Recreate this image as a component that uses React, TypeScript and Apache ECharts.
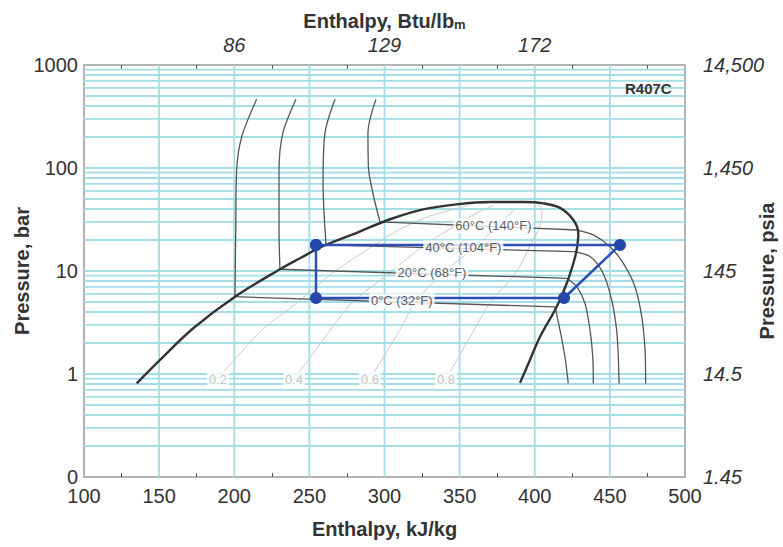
import React, { useEffect, useRef } from "react";
import * as echarts from "echarts";

const FONT = "'Liberation Sans', Arial, Helvetica, sans-serif";

// Axis ranges
const H_MIN = 100;
const H_MAX = 500;
const P_MIN = 0.1;
const P_MAX = 1000;

// Tick labels
const barTickLabels = ["0", "1", "10", "100", "1000"];
const psiaTickLabels = ["1.45", "14.5", "145", "1,450", "14,500"];
const btuTickLabels: Record<string, string> = { "200": "86", "300": "129", "400": "172" };

// Grid lines (pressure in bar, enthalpy in kJ/kg)
const pressureGrid = [
  0.2, 0.3, 0.4, 0.5, 0.6, 0.7, 0.8, 0.9, 1,
  2, 3, 4, 5, 6, 7, 8, 9, 10,
  20, 30, 40, 50, 60, 70, 80, 90, 100,
  200, 300, 400, 500, 600, 700, 800, 900,
];
const enthalpyGrid = [150, 200, 250, 300, 350, 400, 450];

// Saturation dome [h kJ/kg, p bar]
const saturationDome = [
  [135.1, 0.81], [150.6, 1.37], [172.7, 2.78], [200.5, 5.63], [230.4, 10.4],
  [243.8, 13.3], [259.3, 17.5], [281.5, 23.5], [303.7, 31.8], [325.8, 39.7],
  [348.0, 44.4], [370.2, 46.8], [392.4, 46.8], [405.7, 45.4], [416.8, 41.0],
  [425.7, 31.3], [429.0, 23.2], [427.9, 16.0], [425.7, 11.9], [421.3, 7.6],
  [414.6, 4.5], [403.5, 2.3], [396.8, 1.37], [390.2, 0.82],
];

// Isotherms: liquid part and superheated-vapour part
const iso0Liquid = [[214.9, 464], [205.0, 201], [201.6, 95.7], [201.0, 25], [200.5, 5.63]];
const iso0Vapour = [[413.5, 4.48], [416.8, 2.67], [420.1, 1.47], [422.3, 0.81]];
const iso20Liquid = [[241.1, 464], [232.4, 219], [229.8, 95.7], [229.8, 25], [230.4, 10.4]];
const iso20Vapour = [[421.3, 8.49], [427.9, 7.04], [433.4, 4.86], [436.8, 2.67], [438.6, 1.47], [439.0, 0.81]];
const iso40Liquid = [[267.1, 464], [260.4, 219], [259.1, 71.5], [261.1, 17.9]];
const iso40Vapour = [[425.5, 15.4], [436.8, 13.8], [445.4, 9.56], [451.2, 5.23], [454.5, 2.67], [455.6, 1.47], [456.1, 0.81]];
const iso60Liquid = [[294.3, 464], [289.0, 219], [289.3, 102], [292.5, 55], [297.0, 30.0]];
const iso60Vapour = [[427.9, 25.0], [439.0, 22.4], [450.1, 17.2], [458.9, 11.9], [466.7, 7.04], [471.2, 3.6], [473.4, 1.71], [473.8, 0.81]];

// Constant-quality lines
const quality02 = [[191.8, 1], [218.5, 2.67], [241.8, 4.92], [265.7, 9.63], [292.3, 17.5], [310.3, 25.4], [330.3, 34.2], [354.9, 42.8]];
const quality04 = [[242.4, 1], [263.9, 2.67], [278.4, 4.92], [303.7, 9.63], [325.6, 17.5], [343.6, 25.6], [361.6, 36.8], [372.2, 42.8]];
const quality06 = [[292.3, 1], [310.3, 2.67], [320.3, 4.92], [338.9, 9.63], [361.6, 17.5], [374.9, 27.4], [388.2, 41.2]];
const quality08 = [[342.9, 1], [359.6, 2.67], [370.2, 4.92], [387.5, 9.63], [396.8, 17.5], [403.5, 27.4], [404.8, 40.0], [401.5, 44.7]];

// Refrigeration cycle
const cycle = [[254.4, 17.9], [254.4, 5.47], [419.5, 5.47], [456.7, 17.9], [254.4, 17.9]];

// Labels
const isothermLabels = [
  { text: "60°C (140°F)", h: 372.5, p: 27.4 },
  { text: "40°C (104°F)", h: 352.5, p: 16.8 },
  { text: "20°C (68°F)", h: 331.6, p: 9.63 },
  { text: "0°C (32°F)", h: 311.5, p: 5.15 },
];
const qualityLabels = [
  { text: "0.2", h: 189.2, p: 0.894 },
  { text: "0.4", h: 239.8, p: 0.894 },
  { text: "0.6", h: 290.3, p: 0.894 },
  { text: "0.8", h: 340.9, p: 0.894 },
];

const GRID_COLOR = "#a3dde6";
const ISO_COLOR = "#555555";
const QUAL_COLOR = "#c9c9c9";

function line(data: number[][], color: string, width: number, z: number, smooth: number | boolean) {
  return {
    type: "line",
    data,
    symbol: "none",
    smooth,
    silent: true,
    z,
    lineStyle: { color, width },
  };
}

export default function App() {
  const ref = useRef<HTMLDivElement>(null);
  useEffect(() => {
    document.body.style.margin = "0";
    if (!ref.current) return;
    const chart = echarts.init(ref.current, undefined, { renderer: "svg" });

    const gridSeries: any[] = [
      ...pressureGrid.map((v) => line([[H_MIN, v], [H_MAX, v]], GRID_COLOR, 1.8, 1, false)),
      ...enthalpyGrid.map((v) => line([[v, P_MIN], [v, P_MAX]], GRID_COLOR, 1.8, 1, false)),
    ];

    const isotherms = [
      [iso0Liquid, iso0Vapour],
      [iso20Liquid, iso20Vapour],
      [iso40Liquid, iso40Vapour],
      [iso60Liquid, iso60Vapour],
    ];
    const isoSeries: any[] = [];
    isotherms.forEach(([liq, vap]) => {
      isoSeries.push(line(liq, ISO_COLOR, 1.3, 3, 0.3));
      isoSeries.push(line([liq[liq.length - 1], vap[0]], ISO_COLOR, 1.3, 3, false));
      isoSeries.push(line(vap, ISO_COLOR, 1.3, 3, 0.3));
    });

    const labelSeries = (items: { text: string; h: number; p: number }[], color: string) => ({
      type: "scatter",
      z: 8,
      silent: true,
      symbolSize: 1,
      itemStyle: { color: "rgba(0,0,0,0)" },
      data: items.map((l) => ({ name: l.text, value: [l.h, l.p] })),
      label: {
        show: true,
        position: "inside",
        formatter: "{b}",
        fontSize: 13,
        fontFamily: FONT,
        color,
        backgroundColor: "#ffffff",
        padding: [1, 2],
      },
    });

    const option: any = {
      animation: false,
      grid: {
        left: 84,
        right: 98,
        top: 65,
        bottom: 70,
        show: true,
        borderColor: "#9a9a9a",
        borderWidth: 1.5,
        outerBoundsMode: "none",
      },
      textStyle: { fontFamily: FONT },
      graphic: [
        {
          type: "text",
          left: 625,
          top: 81,
          z: 10,
          style: { text: "R407C", fontSize: 15, fontWeight: "bold", fill: "#333", fontFamily: FONT },
        },
      ],
      xAxis: [
        {
          type: "value",
          position: "bottom",
          min: H_MIN,
          max: H_MAX,
          interval: 50,
          axisLine: { show: false },
          axisTick: { show: false, inside: true },
          minorTick: { show: true, splitNumber: 2, length: 4, lineStyle: { color: "#555", width: 1 } },
          splitLine: { show: false },
          axisLabel: { fontSize: 20, color: "#333", margin: 9, fontFamily: FONT },
          name: "Enthalpy, kJ/kg",
          nameLocation: "middle",
          nameGap: 42,
          nameMoveOverlap: false,
          nameTextStyle: { fontSize: 20, fontWeight: "bold", color: "#333", fontFamily: FONT },
        },
        {
          type: "value",
          position: "top",
          min: H_MIN,
          max: H_MAX,
          interval: 50,
          axisLine: { show: false },
          axisTick: { show: false, inside: true },
          minorTick: { show: true, splitNumber: 2, length: 4, lineStyle: { color: "#555", width: 1 } },
          splitLine: { show: false },
          axisLabel: {
            fontSize: 20,
            color: "#333",
            fontStyle: "italic",
            margin: 10,
            fontFamily: FONT,
            formatter: (v: number) => btuTickLabels[String(Math.round(v))] ?? "",
          },
          name: "Enthalpy, Btu/lb{m|m}",
          nameLocation: "middle",
          nameGap: 34,
          nameMoveOverlap: false,
          nameTextStyle: {
            fontSize: 20,
            fontWeight: "bold",
            color: "#333",
            fontFamily: FONT,
            rich: { m: { fontSize: 13, fontWeight: "bold", color: "#333", verticalAlign: "bottom", fontFamily: FONT } },
          },
        },
      ],
      yAxis: [
        {
          type: "log",
          logBase: 10,
          min: P_MIN,
          max: P_MAX,
          position: "left",
          axisLine: { show: false },
          axisTick: { show: false },
          splitLine: { show: false },
          axisLabel: {
            fontSize: 20,
            color: "#333",
            margin: 6,
            fontFamily: FONT,
            formatter: (v: number) => barTickLabels[Math.round(Math.log10(v)) + 1] ?? "",
          },
          name: "Pressure, bar",
          nameLocation: "middle",
          nameGap: 52,
          nameMoveOverlap: false,
          nameTextStyle: { fontSize: 20, fontWeight: "bold", color: "#333", fontFamily: FONT },
        },
        {
          type: "log",
          logBase: 10,
          min: P_MIN,
          max: P_MAX,
          position: "right",
          axisLine: { show: false },
          axisTick: { show: false },
          splitLine: { show: false },
          axisLabel: {
            fontSize: 20,
            color: "#333",
            fontStyle: "italic",
            margin: 18,
            fontFamily: FONT,
            formatter: (v: number) => psiaTickLabels[Math.round(Math.log10(v)) + 1] ?? "",
          },
          name: "Pressure, psia",
          nameLocation: "middle",
          nameGap: 72,
          nameMoveOverlap: false,
          nameTextStyle: { fontSize: 20, fontWeight: "bold", color: "#333", fontFamily: FONT },
        },
      ],
      series: [
        ...gridSeries,
        line(quality02, QUAL_COLOR, 1, 2, 0.3),
        line(quality04, QUAL_COLOR, 1, 2, 0.3),
        line(quality06, QUAL_COLOR, 1, 2, 0.3),
        line(quality08, QUAL_COLOR, 1, 2, 0.3),
        ...isoSeries,
        line(saturationDome, "#333333", 2.4, 4, 0.35),
        {
          type: "line",
          data: cycle,
          z: 6,
          silent: true,
          symbol: "circle",
          symbolSize: 12,
          itemStyle: { color: "#2346a8" },
          lineStyle: { color: "#2d4fb5", width: 2.5 },
        },
        labelSeries(isothermLabels, "#333333"),
        labelSeries(qualityLabels, "#b5b5b5"),
      ],
    };
    chart.setOption(option);
    return () => chart.dispose();
  }, []);
  return <div ref={ref} style={{ width: 783, height: 547 }} />;
}
